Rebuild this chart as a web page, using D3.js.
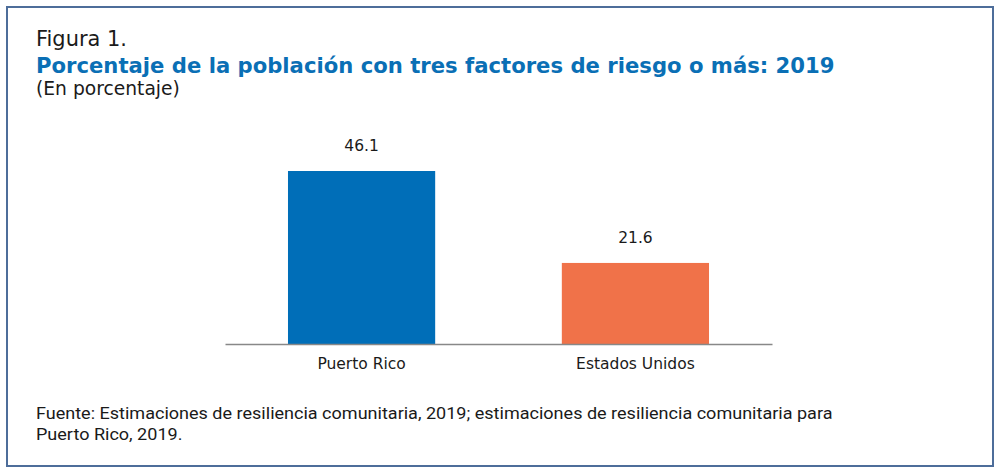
<!DOCTYPE html>
<html>
<head>
<meta charset="utf-8">
<script src="https://cdn.jsdelivr.net/npm/d3@7"></script>
<style>
  html, body { margin: 0; padding: 0; background: #fff; }
  svg { display: block; }
</style>
</head>
<body>
<div id="chart"></div>
<script>
// Chart data
const categories = ['Puerto Rico', 'Estados Unidos'];
const values = [46.1, 21.6];
const valueLabels = ['46.1', '21.6'];
const barColors = ['#006eb8', '#f07249'];

const figLabel = 'Figura 1.';
const title = 'Porcentaje de la población con tres factores de riesgo o más: 2019';
const subtitle = '(En porcentaje)';
const sourceLines = [
    'Fuente: Estimaciones de resiliencia comunitaria, 2019; estimaciones de resiliencia comunitaria para',
    'Puerto Rico, 2019.'
];

const width = 1000;
const height = 475;
const font = '"DejaVu Sans", sans-serif';

// plot area
const plot = { left: 225, right: 772, top: 171, bottom: 344 };

const svg = d3.select('#chart')
    .append('svg')
    .attr('width', width)
    .attr('height', height);

// shrink/grow font size so a text spans the given width
function fitWidth(sel, target) {
    sel.each(function () {
        const size = parseFloat(this.getAttribute('font-size'));
        const w = this.getComputedTextLength();
        if (w > 0) this.setAttribute('font-size', (size * target / w).toFixed(2));
    });
}

// frame
svg.append('rect')
    .attr('x', 7)
    .attr('y', 7)
    .attr('width', 986)
    .attr('height', 459)
    .attr('fill', 'none')
    .attr('stroke', '#4d6d9a')
    .attr('stroke-width', 2);

// headings
svg.append('text')
    .attr('x', 36)
    .attr('y', 46)
    .attr('font-family', font)
    .attr('font-size', 20)
    .attr('fill', '#1a1a1a')
    .text(figLabel)
    .call(fitWidth, 91);

svg.append('text')
    .attr('x', 36)
    .attr('y', 73)
    .attr('font-family', font)
    .attr('font-weight', 'bold')
    .attr('font-size', 21)
    .attr('fill', '#0a6fb5')
    .text(title)
    .call(fitWidth, 799);

svg.append('text')
    .attr('x', 36)
    .attr('y', 95)
    .attr('font-family', font)
    .attr('font-size', 17)
    .attr('fill', '#1a1a1a')
    .text(subtitle)
    .call(fitWidth, 144);

// scales
const x = d3.scaleBand()
    .domain(categories)
    .range([plot.left, plot.right])
    .paddingInner(0.4625)
    .paddingOuter(0.23);

const y = d3.scaleLinear()
    .domain([0, d3.max(values)])
    .range([plot.bottom, plot.top]);

const rows = categories.map((c, i) => ({ cat: c, value: values[i], label: valueLabels[i], color: barColors[i] }));

// bars
svg.append('g')
    .selectAll('rect')
    .data(rows)
    .join('rect')
    .attr('x', d => x(d.cat))
    .attr('y', d => y(d.value))
    .attr('width', x.bandwidth())
    .attr('height', d => y(0) - y(d.value))
    .attr('fill', d => d.color);

// value labels
svg.append('g')
    .selectAll('text')
    .data(rows)
    .join('text')
    .attr('x', d => x(d.cat) + x.bandwidth() / 2)
    .attr('y', d => y(d.value) - 20)
    .attr('text-anchor', 'middle')
    .attr('font-family', font)
    .attr('font-size', 15.5)
    .attr('fill', '#1a1a1a')
    .text(d => d.label);

// x axis
const xAxis = svg.append('g')
    .attr('transform', `translate(0, ${plot.bottom})`)
    .call(d3.axisBottom(x).tickSize(0).tickPadding(14));

xAxis.select('.domain')
    .attr('stroke', '#888')
    .attr('stroke-width', 1.5);

xAxis.selectAll('text')
    .attr('font-family', font)
    .attr('font-size', 15.5)
    .attr('fill', '#1a1a1a');

// source note, narrow type: squeeze the group horizontally
const note = svg.append('g');
note.selectAll('text')
    .data(sourceLines)
    .join('text')
    .attr('x', 0)
    .attr('y', (d, i) => 419 + i * 21)
    .attr('font-family', 'Roboto, sans-serif')
    .attr('font-size', 17)
    .attr('fill', '#1a1a1a')
    .text(d => d);

const firstW = note.select('text').node().getComputedTextLength();
note.attr('transform', `translate(36,0) scale(${797 / firstW},1)`);
</script>
</body>
</html>
